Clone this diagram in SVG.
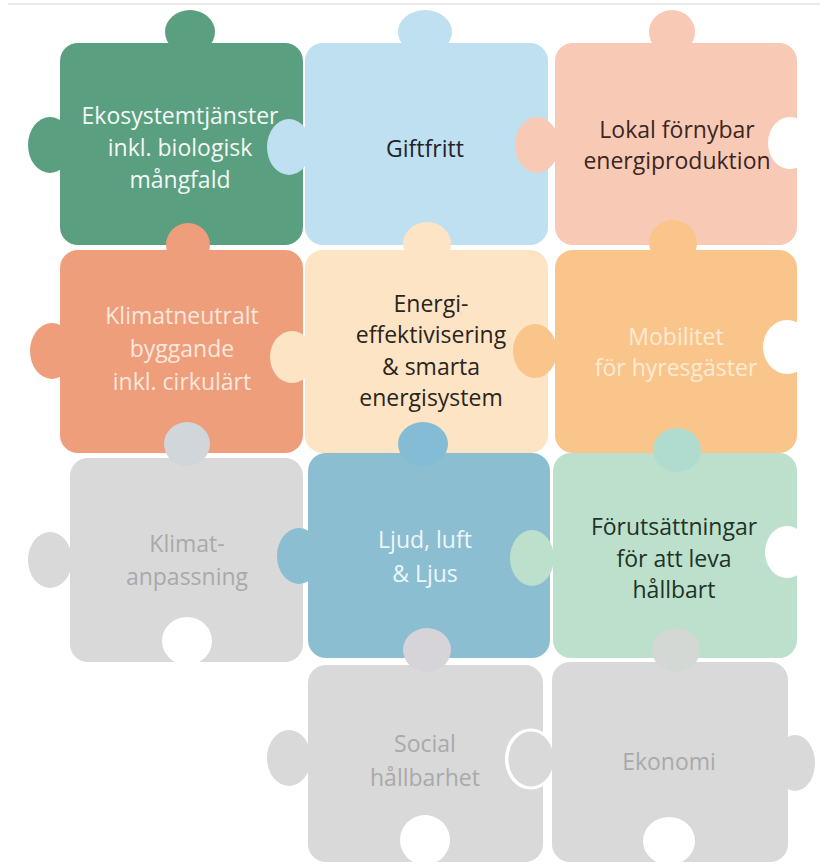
<svg xmlns="http://www.w3.org/2000/svg" width="820" height="864" viewBox="0 0 820 864">
<style>
text{font-family:"Open Sans","Liberation Sans",sans-serif;font-size:23px;text-anchor:middle}
.hole{fill:#ffffff}
.c1{fill:#5b9f81}
.c2{fill:#bee0f0}
.c3{fill:#f8cab6}
.c4{fill:#ee9e7b}
.c5{fill:#fde4c5}
.c6{fill:#fac58b}
.c7{fill:#d9d9d9}
.c8{fill:#8cbed1}
.c9{fill:#bde0cd}
.light{fill:#f4f8f5}
.dark{fill:#22222e}
.grey{fill:#a9a9a9}
</style>
<rect width="820" height="864" fill="#ffffff"/>
<rect x="8" y="3" width="812" height="2" fill="#e9e9e9"/>
<g id="connectors"/>
<g id="ekosystemtjanster">
<rect x="60" y="43" width="243" height="202" rx="18" class="c1"/>
<ellipse cx="190" cy="32" rx="25" ry="22" class="c1"/>
<ellipse cx="50" cy="145" rx="22" ry="28" class="c1"/>
<text x="180" y="124" class="light">Ekosystemtjänster</text>
<text x="180" y="156" class="light">inkl. biologisk</text>
<text x="180" y="188" class="light">mångfald</text>
</g>
<g id="giftfritt">
<rect x="305" y="43" width="243" height="202" rx="18" class="c2"/>
<ellipse cx="425" cy="32" rx="27" ry="22" class="c2"/>
<ellipse cx="289" cy="147" rx="22" ry="28" class="c2"/>
<text x="425" y="157" class="dark">Giftfritt</text>
</g>
<g id="lokal-fornybar">
<rect x="555" y="43" width="242" height="202" rx="18" class="c3"/>
<ellipse cx="672" cy="32" rx="23" ry="22" class="c3"/>
<ellipse cx="537" cy="145" rx="22" ry="28" class="c3"/>
<ellipse cx="790" cy="143" rx="22" ry="26" class="hole"/>
<text x="677" y="138" fill="#3a2622">Lokal förnybar</text>
<text x="677" y="169" fill="#3a2622">energiproduktion</text>
</g>
<g id="klimatneutralt">
<rect x="60" y="250" width="243" height="203" rx="18" class="c4"/>
<ellipse cx="188" cy="245" rx="22" ry="22" class="c4"/>
<ellipse cx="52" cy="351" rx="22" ry="28" class="c4"/>
<text x="182" y="324" fill="#fbe7de">Klimatneutralt</text>
<text x="182" y="357" fill="#fbe7de">byggande</text>
<text x="182" y="390" fill="#fbe7de">inkl. cirkulärt</text>
</g>
<g id="energieffektivisering">
<rect x="305" y="250" width="243" height="203" rx="18" class="c5"/>
<ellipse cx="427" cy="244" rx="24" ry="22" class="c5"/>
<ellipse cx="292" cy="357" rx="22" ry="26" class="c5"/>
<text x="431" y="312" fill="#2b241b">Energi-</text>
<text x="431" y="343" fill="#2b241b">effektivisering</text>
<text x="431" y="375" fill="#2b241b">&amp; smarta</text>
<text x="431" y="406" fill="#2b241b">energisystem</text>
</g>
<g id="mobilitet">
<rect x="555" y="250" width="242" height="203" rx="18" class="c6"/>
<ellipse cx="673" cy="243" rx="24" ry="23" class="c6"/>
<ellipse cx="535" cy="351" rx="22" ry="27" class="c6"/>
<ellipse cx="787" cy="347" rx="24" ry="27" class="hole"/>
<text x="676" y="345" fill="#fdebd4">Mobilitet</text>
<text x="676" y="376" fill="#fdebd4">för hyresgäster</text>
</g>
<g id="klimatanpassning">
<rect x="70" y="458" width="233" height="204" rx="18" class="c7"/>
<ellipse cx="187" cy="444" rx="23" ry="22" fill="#d0d6d9"/>
<ellipse cx="50" cy="560" rx="22" ry="28" class="c7"/>
<ellipse cx="187" cy="641" rx="25" ry="24" class="hole"/>
<text x="187" y="552" class="grey">Klimat-</text>
<text x="187" y="585" class="grey">anpassning</text>
</g>
<g id="ljud-luft-ljus">
<rect x="308" y="453" width="242" height="205" rx="18" class="c8"/>
<ellipse cx="423" cy="444" rx="25" ry="22" fill="#84bcd6"/>
<ellipse cx="299" cy="556" rx="22" ry="28" class="c8"/>
<text x="425" y="548" fill="#eef6fa">Ljud, luft</text>
<text x="425" y="582" fill="#eef6fa">&amp; Ljus</text>
</g>
<g id="forutsattningar">
<rect x="553" y="453" width="244" height="205" rx="18" class="c9"/>
<ellipse cx="677" cy="450" rx="24" ry="22" fill="#b0dccf"/>
<ellipse cx="532" cy="558" rx="22" ry="28" class="c9"/>
<ellipse cx="787" cy="552" rx="22" ry="26" class="hole"/>
<text x="674" y="535" fill="#1f3326">Förutsättningar</text>
<text x="674" y="567" fill="#1f3326">för att leva</text>
<text x="674" y="598" fill="#1f3326">hållbart</text>
</g>
<g id="social-hallbarhet">
<rect x="308" y="665" width="235" height="197" rx="18" class="c7"/>
<ellipse cx="427" cy="650" rx="24" ry="22" fill="#d6d4d8"/>
<ellipse cx="289" cy="758" rx="22" ry="28" class="c7"/>
<ellipse cx="529" cy="759" rx="24" ry="30" class="hole"/>
<ellipse cx="425" cy="840" rx="25" ry="25" class="hole"/>
<text x="425" y="752" class="grey">Social</text>
<text x="425" y="786" class="grey">hållbarhet</text>
</g>
<g id="ekonomi">
<ellipse cx="531" cy="759" rx="24" ry="29" class="c7" stroke="#ffffff" stroke-width="3"/>
<rect x="552" y="662" width="236" height="200" rx="18" class="c7"/>
<ellipse cx="676" cy="650" rx="24" ry="22" fill="#d3d8d5"/>
<ellipse cx="795" cy="763" rx="20" ry="28" class="c7"/>
<ellipse cx="669" cy="841" rx="26" ry="24" class="hole"/>
<text x="669" y="770" class="grey">Ekonomi</text>
</g>
</svg>
